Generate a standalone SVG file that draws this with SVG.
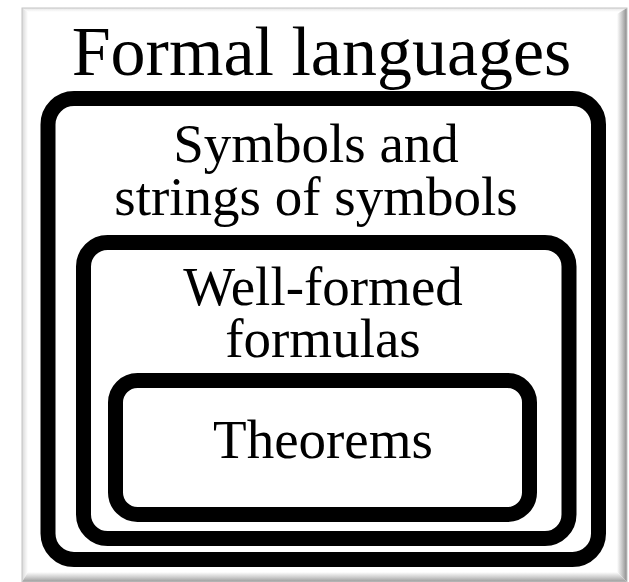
<svg xmlns="http://www.w3.org/2000/svg" width="629" height="582" viewBox="0 0 629 582">
  <defs>
    <linearGradient id="gl" x1="0" y1="0" x2="1" y2="0">
      <stop offset="0" stop-color="#d8d8d8"/>
      <stop offset="1" stop-color="#ffffff"/>
    </linearGradient>
    <linearGradient id="gr" x1="0" y1="0" x2="1" y2="0">
      <stop offset="0" stop-color="#ffffff"/>
      <stop offset="0.5" stop-color="#c8c8c8"/>
      <stop offset="1" stop-color="#8a8a8a"/>
    </linearGradient>
    <linearGradient id="gb" x1="0" y1="0" x2="0" y2="1">
      <stop offset="0" stop-color="#ffffff"/>
      <stop offset="0.5" stop-color="#cfcfcf"/>
      <stop offset="1" stop-color="#9a9a9a"/>
    </linearGradient>
    <linearGradient id="gt" x1="0" y1="0" x2="0" y2="1">
      <stop offset="0" stop-color="#e6e6e6"/>
      <stop offset="1" stop-color="#ffffff"/>
    </linearGradient>
  </defs>
  <style>
    .box { fill: none; stroke: #000; stroke-width: 15; }
    .t { font-family: "Liberation Serif", "Times New Roman", serif; fill: #000; text-anchor: middle; }
  </style>
  <rect x="0" y="0" width="629" height="582" fill="#ffffff"/>
  <g id="frame">
    <rect x="22" y="8" width="605" height="574" fill="#ffffff"/>
    <polygon points="22,8 627,8 621,12 28,12" fill="url(#gt)"/>
    <polygon points="22,8 28,12 28,572 22,582" fill="url(#gl)"/>
    <polygon points="627,8 627,582 617,572 617,14" fill="url(#gr)"/>
    <polygon points="22,582 28,572 617,572 627,582" fill="url(#gb)"/>
    <rect x="22" y="8" width="605" height="574" fill="none" stroke="#c4c4c4" stroke-width="1"/>
  </g>
  <g id="formal-languages">
    <rect class="box" x="48" y="98.5" width="550.5" height="461" rx="26" ry="26"/>
    <text class="t" x="321.5" y="75" font-size="70">Formal languages</text>
  </g>
  <g id="symbols-strings">
    <rect class="box" x="83.5" y="242.5" width="485.5" height="296" rx="24" ry="24"/>
    <text class="t" x="316" y="162" font-size="55">Symbols and</text>
    <text class="t" x="316" y="215" font-size="55">strings of symbols</text>
  </g>
  <g id="well-formed-formulas">
    <rect class="box" x="115.5" y="380.5" width="414" height="134" rx="22" ry="22"/>
    <text class="t" x="323" y="305" font-size="55">Well-formed</text>
    <text class="t" x="323" y="357" font-size="55">formulas</text>
  </g>
  <g id="theorems">
    <text class="t" x="323" y="458" font-size="55">Theorems</text>
  </g>
</svg>
